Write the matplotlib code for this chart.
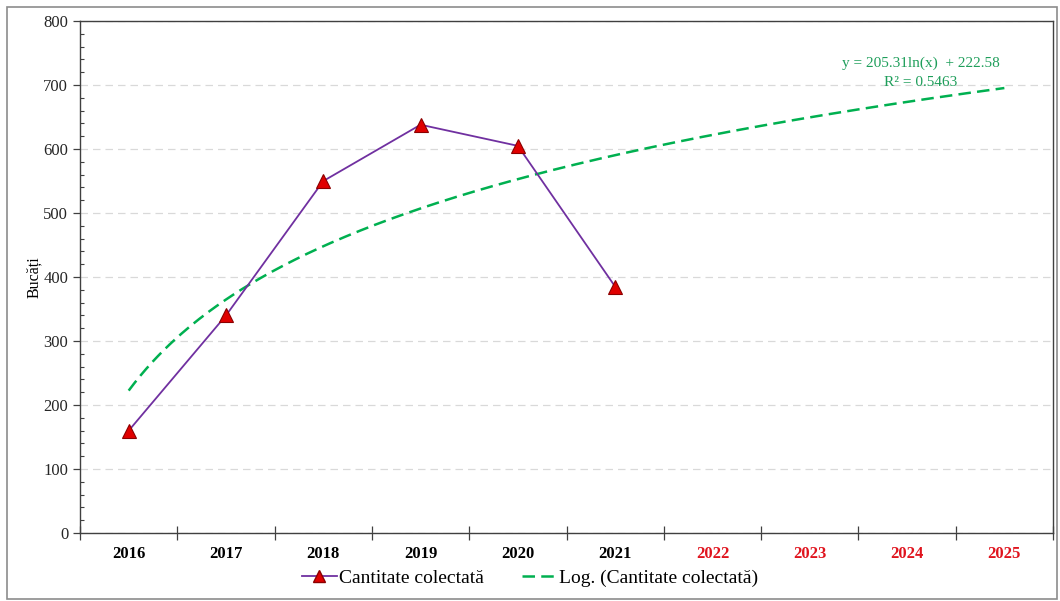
import numpy as np
import matplotlib
matplotlib.use("Agg")
import matplotlib.pyplot as plt
from matplotlib.ticker import MultipleLocator, FixedLocator, NullFormatter
from matplotlib.patches import Rectangle
from matplotlib.lines import Line2D

plt.rcParams['font.family'] = ['Liberation Serif', 'DejaVu Serif']

years = ['2016', '2017', '2018', '2019', '2020', '2021', '2022', '2023', '2024', '2025']
forecast_years = ['2022', '2023', '2024', '2025']
collected = [160, 340, 550, 638, 605, 385]

# logarithmic trend coefficients: y = a*ln(x) + b
trend_a = 205.31
trend_b = 222.58
trend_r2 = 0.5463

fig = plt.figure(figsize=(10.6, 6.01), dpi=100)
ax = fig.add_axes([0.0755, 0.113, 0.9179, 0.852])

# outer frame of the chart
fig.add_artist(Rectangle((0.0065, 0.003), 0.991, 0.986, transform=fig.transFigure,
                         fill=False, edgecolor='#8c8c8c', linewidth=1.2))

x = np.arange(len(years))
ax.plot(x[:len(collected)], collected, color='#7030A0', linewidth=1.3,
        marker='^', markersize=10.5, markerfacecolor='#E00000',
        markeredgecolor='#8B0000', markeredgewidth=0.8, zorder=3)

xt = np.linspace(1, len(years), 300)
ax.plot(xt - 1, trend_a * np.log(xt) + trend_b, color='#00B050',
        linewidth=1.8, linestyle=(0, (5, 2.5)), zorder=2)

ax.text(0.864, 0.899, f'y = {trend_a}ln(x)  + {trend_b}\nR² = {trend_r2}',
        transform=ax.transAxes, ha='center', va='center', color='#1E9E5A',
        fontsize=11, linespacing=1.55)

ax.set_xlim(-0.5, len(years) - 0.5)
ax.set_ylim(0, 800)
ax.yaxis.set_major_locator(MultipleLocator(100))
ax.yaxis.set_minor_locator(MultipleLocator(20))
ax.grid(axis='y', which='major', color='#d9d9d9', linestyle=(0, (6, 4)), linewidth=0.9)
ax.set_axisbelow(True)

ax.set_xticks(x)
ax.set_xticklabels(years, fontweight='bold', fontsize=12)
for lbl in ax.get_xticklabels():
    if lbl.get_text() in forecast_years:
        lbl.set_color('#E0141E')
ax.tick_params(axis='x', which='major', length=0, pad=9)
ax.xaxis.set_minor_locator(FixedLocator(np.arange(-0.5, len(years), 1.0)))
ax.xaxis.set_minor_formatter(NullFormatter())
ax.tick_params(axis='x', which='minor', direction='inout', length=10, width=0.9, color='#404040')

ax.tick_params(axis='y', which='major', direction='out', length=5, width=0.9,
               labelsize=12, color='#404040', labelcolor='#262626')
ax.tick_params(axis='y', which='minor', direction='in', length=3, width=0.8, color='#404040')

for s in ax.spines.values():
    s.set_color('#404040')
    s.set_linewidth(1.0)

ax.set_ylabel('Bucăți', fontsize=11.5, labelpad=1)

handles = [
    Line2D([], [], color='#7030A0', linewidth=1.3, marker='^', markersize=9,
           markerfacecolor='#E00000', markeredgecolor='#8B0000'),
    Line2D([], [], color='#00B050', linewidth=1.8, linestyle=(0, (5, 2.5))),
]
fig.legend(handles, ['Cantitate colectată', 'Log. (Cantitate colectată)'],
           loc='center', bbox_to_anchor=(0.5, 0.038), ncol=2, frameon=False,
           fontsize=14, handlelength=1.8, handletextpad=0.1, columnspacing=2.0)

fig.savefig('out.png', dpi=100)
